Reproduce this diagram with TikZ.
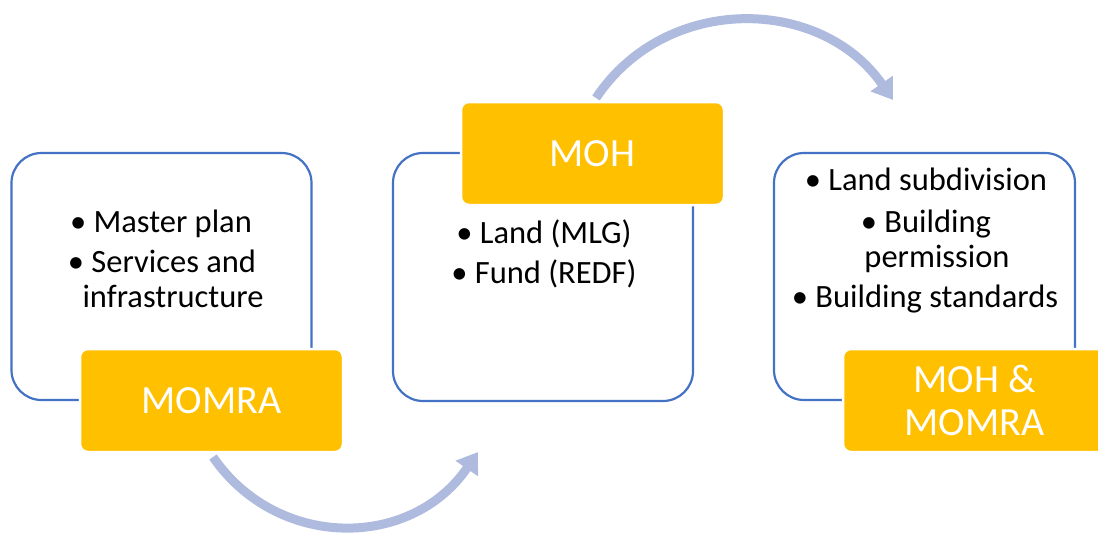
\documentclass[tikz,border=0pt]{standalone}
\usepackage{fontspec}
\setmainfont{Carlito}
\usetikzlibrary{arrows.meta}
\definecolor{boxblue}{HTML}{4472C4}
\definecolor{labelyellow}{HTML}{FFC000}
\definecolor{arrowblue}{HTML}{AEBBDE}
\begin{document}
\begin{tikzpicture}[x=1pt,y=-1pt,
  panel/.style={draw=boxblue, line width=2.2pt, rounded corners=30pt, fill=white, inner sep=0pt},
  tag/.style={fill=labelyellow, draw=white, line width=2.5pt, rounded corners=8pt, text=white,
    font=\fontsize{40}{43}\selectfont, align=center, minimum width=263pt, minimum height=103pt, inner sep=0pt},
  item/.style={anchor=base, font=\fontsize{32.5}{36}\selectfont, inner sep=0pt},
  flow/.style={draw=arrowblue, line width=9pt, -{Triangle[width=26pt,length=20pt]}}]
\useasboundingbox (0,0) rectangle (1098,535);
% arrows
\coordinate (s1) at (213,457);
\coordinate (e1) at (478,452);
\draw[flow] (s1) .. controls (277,550) and (411,550) .. (e1);
\coordinate (s2) at (596,98);
\coordinate (e2) at (893,100);
\draw[flow] (s2) .. controls (666,-7) and (821,-4) .. (e2);
% panels
\node[panel, minimum width=300pt, minimum height=247pt] (p1) at (161.5,276.5) {};
\node[panel, minimum width=300pt, minimum height=248pt] (p2) at (543,277) {};
\node[panel, minimum width=301pt, minimum height=247pt] (p3) at (924.5,276.5) {};
% tags
\node[tag] (t1) at (211.5,400.5) {MOMRA};
\node[tag] (t2) at (592.5,153.5) {MOH};
\node[tag] (t3) at (974.5,400.5) {MOH \&\\MOMRA};
% items
\node[item] (a1) at (161,232) {•\ Master plan};
\node[item] (a2) at (162,272) {•\ Services and};
\node[item] (a3) at (173,307) {infrastructure};
\node[item] (b1) at (544,243) {•\ Land (MLG)};
\node[item] (b2) at (544,283) {•\ Fund (REDF)};
\node[item] (c1) at (926,190) {•\ Land subdivision};
\node[item] (c2) at (926,232) {•\ Building};
\node[item] (c3) at (937,267) {permission};
\node[item] (c4) at (925,307) {•\ Building standards};
\end{tikzpicture}
\end{document}
